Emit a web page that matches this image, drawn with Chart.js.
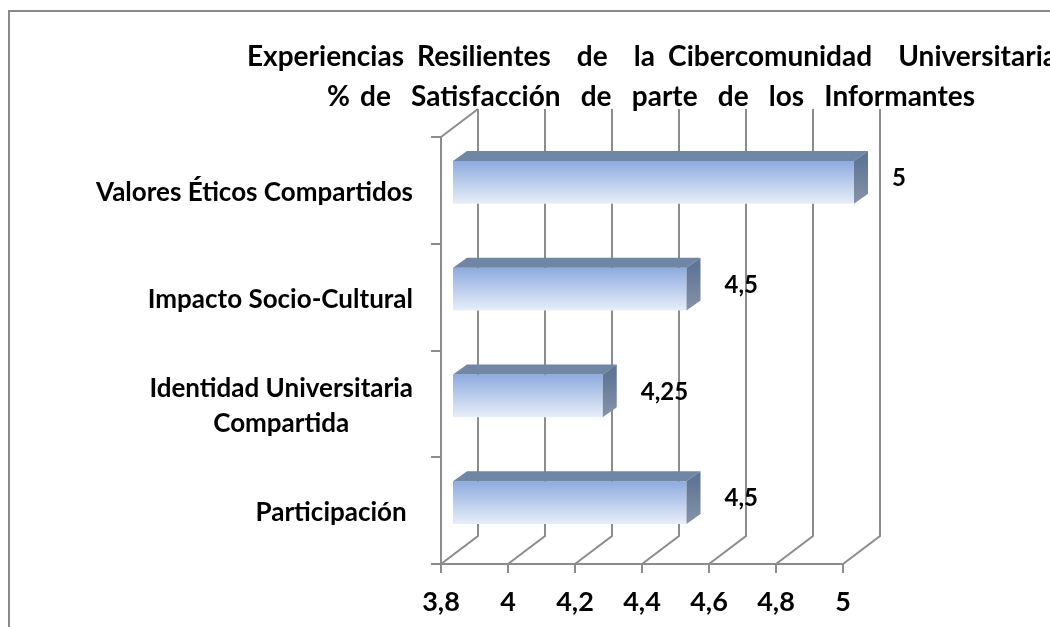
<!DOCTYPE html>
<html>
<head>
<meta charset="utf-8">
<script src="https://cdn.jsdelivr.net/npm/chart.js@4.4.1/dist/chart.umd.min.js"></script>
<style>
  html, body { margin: 0; padding: 0; background: #fff; }
  #wrap { width: 1050px; height: 627px; position: relative; }
</style>
</head>
<body>
<div id="wrap"><canvas id="c" width="1050" height="627"></canvas></div>
<script>
// ---- data ----
const categories = [
  ['Valores Éticos Compartidos'],
  ['Impacto Socio-Cultural'],
  ['Identidad Universitaria', 'Compartida'],
  ['Participación ']
];
const values = [5, 4.5, 4.25, 4.5];
const valueLabels = ['5', '4,5', '4,25', '4,5'];
const xTickLabels = ['3,8', '4', '4,2', '4,4', '4,6', '4,8', '5'];
const titleLines = [
  'Experiencias Resilientes  de  la Cibercomunidad  Universitaria',
  '% de  Satisfacción  de  parte  de  los  Informantes'
];

// ---- style ----
const FONT = 'Lato, "Open Sans", sans-serif';
const GRID = '#8c8c8c';
const DEPTH_X = 37, DEPTH_Y = -28;      // wall depth
const BAR_DX = 11, BAR_DY = -8;         // bar front face offset
const BAR_DEPTH_X = 14, BAR_DEPTH_Y = -10;
const TITLE_SPANS = [[247, 1057, 57], [327, 975, 97]]; // start, end, y

function drawJustified(ctx, text, x0, x1, y) {
  const words = text.split(' ');
  const nSpaces = words.length - 1;
  const wNoSpace = words.reduce((s, w) => s + ctx.measureText(w).width, 0);
  const gap = (x1 - x0 - wNoSpace) / nSpaces;
  let x = x0;
  words.forEach((w) => {
    if (w.length) ctx.fillText(w, x, y);
    x += ctx.measureText(w).width + gap;
  });
}

const threeD = {
  id: 'threeD',
  beforeDraw(chart) {
    const ctx = chart.ctx;
    ctx.save();
    ctx.fillStyle = '#fff';
    ctx.fillRect(0, 0, chart.width, chart.height);
    ctx.strokeStyle = '#8a8a8a';
    ctx.lineWidth = 2;
    ctx.beginPath();
    ctx.moveTo(9, chart.height + 5);
    ctx.lineTo(9, 11);
    ctx.lineTo(chart.width + 5, 11);
    ctx.stroke();
    // title
    ctx.fillStyle = '#000';
    ctx.font = 'bold 28px ' + FONT;
    ctx.textBaseline = 'middle';
    ctx.textAlign = 'left';
    titleLines.forEach((t, i) => {
      const [a, b, y] = TITLE_SPANS[i];
      drawJustified(ctx, t, a, b, y);
    });
    ctx.restore();
  },
  beforeDatasetsDraw(chart) {
    const ctx = chart.ctx;
    const ca = chart.chartArea;
    const xs = chart.scales.x;
    ctx.save();
    ctx.strokeStyle = GRID;
    ctx.lineWidth = 2;
    ctx.beginPath();
    // left wall top edge
    ctx.moveTo(ca.left, ca.top);
    ctx.lineTo(ca.left + DEPTH_X, ca.top + DEPTH_Y);
    xs.ticks.forEach((t, i) => {
      const x = xs.getPixelForTick(i);
      ctx.moveTo(x, ca.bottom);
      ctx.lineTo(x + DEPTH_X, ca.bottom + DEPTH_Y);
      ctx.lineTo(x + DEPTH_X, ca.top + DEPTH_Y);
    });
    ctx.stroke();
    ctx.restore();
    // shift bars into the depth of the plot
    ctx.save();
    ctx.translate(BAR_DX, BAR_DY);
  },
  afterDatasetsDraw(chart) {
    const ctx = chart.ctx;
    const meta = chart.getDatasetMeta(0);
    meta.data.forEach((bar) => {
      const p = bar.getProps(['x', 'y', 'base', 'height'], true);
      const top = p.y - p.height / 2, bot = p.y + p.height / 2;
      const x0 = p.base, x1 = p.x;
      // top face
      ctx.fillStyle = '#6f86a4';
      ctx.beginPath();
      ctx.moveTo(x0, top);
      ctx.lineTo(x1, top);
      ctx.lineTo(x1 + BAR_DEPTH_X, top + BAR_DEPTH_Y);
      ctx.lineTo(x0 + BAR_DEPTH_X, top + BAR_DEPTH_Y);
      ctx.closePath();
      ctx.fill();
      // side face
      const g = ctx.createLinearGradient(0, top, 0, bot);
      g.addColorStop(0, '#5f7695');
      g.addColorStop(1, '#8793a8');
      ctx.fillStyle = g;
      ctx.beginPath();
      ctx.moveTo(x1, top);
      ctx.lineTo(x1 + BAR_DEPTH_X, top + BAR_DEPTH_Y);
      ctx.lineTo(x1 + BAR_DEPTH_X, bot + BAR_DEPTH_Y);
      ctx.lineTo(x1, bot);
      ctx.closePath();
      ctx.fill();
    });
    ctx.restore();
    // value labels
    ctx.save();
    ctx.fillStyle = '#000';
    ctx.font = 'bold 24px ' + FONT;
    ctx.textBaseline = 'middle';
    ctx.textAlign = 'left';
    meta.data.forEach((bar, i) => {
      const p = bar.getProps(['x', 'y'], true);
      ctx.fillText(valueLabels[i], p.x + 49, p.y - 12);
    });
    // category labels (block right aligned, lines centred)
    const ys = chart.scales.y;
    ctx.font = 'bold 26px ' + FONT;
    const lh = 35;
    categories.forEach((lines, i) => {
      const cy = ys.getPixelForValue(i) + 2;
      const w = Math.max(...lines.map(l => ctx.measureText(l).width));
      const cx = 413 - w / 2;
      ctx.textAlign = 'center';
      lines.forEach((l, k) => {
        ctx.fillText(l, cx, cy + (k - (lines.length - 1) / 2) * lh);
      });
    });
    ctx.restore();
  }
};

new Chart(document.getElementById('c'), {
  type: 'bar',
  data: {
    labels: categories,
    datasets: [{
      data: values,
      base: 3.8,
      barPercentage: 0.4,
      categoryPercentage: 1,
      borderWidth: 0,
      backgroundColor(c) {
        const chart = c.chart;
        if (!chart.chartArea || !chart.scales.y) return '#a9bfe6';
        const ys = chart.scales.y;
        const cy = ys.getPixelForValue(c.dataIndex);
        const h = (ys.height / categories.length) * 0.4;
        const g = chart.ctx.createLinearGradient(0, cy - h / 2, 0, cy + h / 2);
        g.addColorStop(0, '#8eabdf');
        g.addColorStop(1, '#e8eef9');
        return g;
      }
    }]
  },
  options: {
    indexAxis: 'y',
    responsive: false,
    animation: false,
    devicePixelRatio: 1,
    layout: { padding: { left: 0, right: 207, top: 137, bottom: 0 } },
    plugins: {
      legend: { display: false },
      title: { display: false },
      tooltip: { enabled: false }
    },
    scales: {
      x: {
        type: 'linear',
        min: 3.8,
        max: 5,
        afterFit(s) { s.height = 63; },
        ticks: {
          stepSize: 0.2,
          callback: (v, i) => xTickLabels[i],
          font: { family: FONT, size: 27, weight: 'bold' },
          color: '#000',
          padding: 13,
          maxRotation: 0
        },
        grid: { drawOnChartArea: false, drawTicks: true, tickLength: 9, color: GRID, lineWidth: 2 },
        border: { color: GRID, width: 2 }
      },
      y: {
        afterFit(s) { s.width = 441; },
        ticks: { display: false },
        grid: { offset: true, drawOnChartArea: false, drawTicks: true, tickLength: 10, color: GRID, lineWidth: 2 },
        border: { color: GRID, width: 2 }
      }
    }
  },
  plugins: [threeD]
});
</script>
</body>
</html>
